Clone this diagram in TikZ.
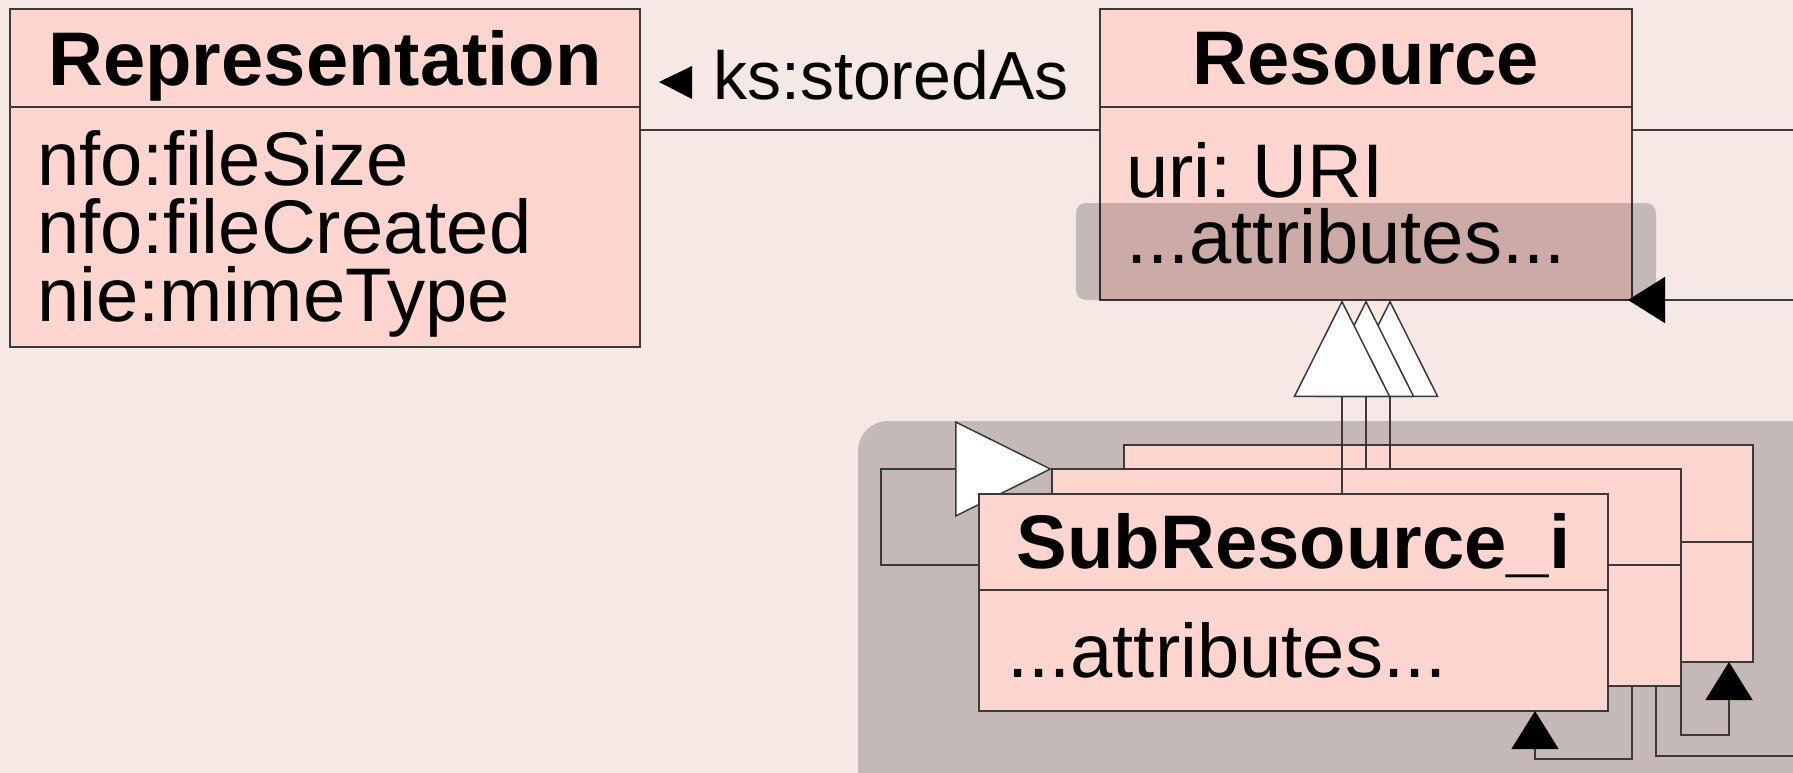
\documentclass[tikz,border=0pt]{standalone}
\usepackage{fontspec}
\setmainfont{Liberation Sans}
\usetikzlibrary{arrows.meta,calc}
\definecolor{bgc}{HTML}{F5E8E5}
\definecolor{boxc}{HTML}{FFD5CF}
\definecolor{linec}{HTML}{3A3A3A}
\frenchspacing
\tikzset{
  umlbox/.style={draw=linec, fill=boxc, line width=1.5pt, rectangle, inner sep=0pt, outer sep=0pt, anchor=north west},
  divider/.style={draw=linec, line width=1.5pt},
  conn/.style={draw=linec, line width=1.5pt},
  headtxt/.style={anchor=base, inner sep=0pt, font=\fontsize{76}{68}\selectfont\bfseries},
  bodytxt/.style={anchor=base west, inner sep=0pt, font=\fontsize{76}{68}\selectfont},
  inh/.style={-{Triangle[open,fill=white,length=97pt,width=97pt]}},
  navtip/.style={-{Triangle[length=38pt,width=47pt,color=black]}},
  hilite/.style={fill=black, opacity=0.2}
}
\begin{document}
\begin{tikzpicture}[x=1pt,y=-1pt]
\useasboundingbox (0,0) rectangle (1793,773);
\clip (0,0) rectangle (1793,773);
\fill[bgc] (0,0) rectangle (1793,773);
% group background
\fill[hilite, rounded corners=30pt] (858,421) rectangle (1860,840);

% Representation
\node[umlbox, minimum width=630pt, minimum height=338pt] (rep) at (10,9) {};
\draw[divider] ($(rep.north west)+(0,98)$) -- ($(rep.north east)+(0,98)$);
\node[headtxt] (repname) at (325,86) {Representation};
\node[bodytxt] (repa1) at (37,185) {nfo:fileSize};
\node[bodytxt] (repa2) at (37,253) {nfo:fileCreated};
\node[bodytxt] (repa3) at (37,321) {nie:mimeType};

% Resource
\node[umlbox, minimum width=532pt, minimum height=291pt] (res) at (1100,9) {};
\draw[divider] ($(res.north west)+(0,98)$) -- ($(res.north east)+(0,98)$);
\fill[hilite, rounded corners=10pt] (1076,203) rectangle (1656,300);
\node[headtxt] (resname) at (1366,85) {Resource};
\node[bodytxt] (resa1) at (1126,197) {uri: URI};
\node[bodytxt] (resa2) at (1126,263) {...attributes...};

% association storedAs
\coordinate (edgeA) at (1793,130);
\draw[conn] (rep.north east |- edgeA) -- (res.north west |- edgeA);
\draw[conn] (res.north east |- edgeA) -- (edgeA);
\fill[black] (659,82) -- (692,66) -- (692,99) -- cycle;
\node[anchor=base west, inner sep=0pt, font=\fontsize{68}{68}\selectfont] (lbl) at (713,100) {ks:storedAs};

% back and middle subresource boxes
\node[umlbox, minimum width=629pt, minimum height=217pt] (sub3) at (1124,445) {};
\draw[divider] ($(sub3.north west)+(0,97)$) -- ($(sub3.north east)+(0,97)$);
\node[umlbox, minimum width=629pt, minimum height=217pt] (sub2) at (1052,469) {};
\draw[divider] ($(sub2.north west)+(0,96)$) -- ($(sub2.north east)+(0,96)$);

% self generalisation loop (behind front box)
\coordinate (loopstart) at (979,565);
\coordinate (loopbend) at (881,469);
\draw[conn, -{Triangle[open,fill=white,length=97pt,width=96pt]}] (loopstart) -| (loopbend) -- (sub2.north west);

% front subresource box
\node[umlbox, minimum width=629pt, minimum height=217pt] (sub1) at (979,494) {};
\draw[divider] ($(sub1.north west)+(0,96)$) -- ($(sub1.north east)+(0,96)$);
\node[headtxt] (subname) at (1293.5,568) {SubResource\_i};
\node[bodytxt] (suba) at (1007,677) {...attributes...};

% generalisations to Resource
\coordinate (g3) at (1390,0);
\coordinate (g2) at (1366,0);
\coordinate (g1) at (1342,0);
\draw[conn, inh] (sub2.north -| g3) -- (res.south -| g3);
\draw[conn, inh] (sub2.north -| g2) -- (res.south -| g2);
\draw[conn, inh] (sub1.north -| g1) -- (res.south -| g1);

% navigation into Resource from the right
\coordinate (edgeB) at (1793,300);
\coordinate (resin) at (1628,300);
\draw[conn, -{Triangle[length=37pt,width=46pt,color=black]}] (edgeB) -- (resin);

% bottom connectors
\coordinate (a1) at (1632,0);
\coordinate (a2) at (1535,759);
\coordinate (a3) at (1535,0);
\draw[conn, navtip] (sub2.south -| a1) |- (a2) -- (sub1.south -| a3);
\coordinate (b2) at (1729,735);
\coordinate (b3) at (1729,0);
\draw[conn, navtip] (sub2.south east) |- (b2) -- (sub3.south -| b3);
\coordinate (c1) at (1656,0);
\coordinate (edgeC) at (1793,756);
\draw[conn] (sub2.south -| c1) |- (edgeC);
\end{tikzpicture}
\end{document}
